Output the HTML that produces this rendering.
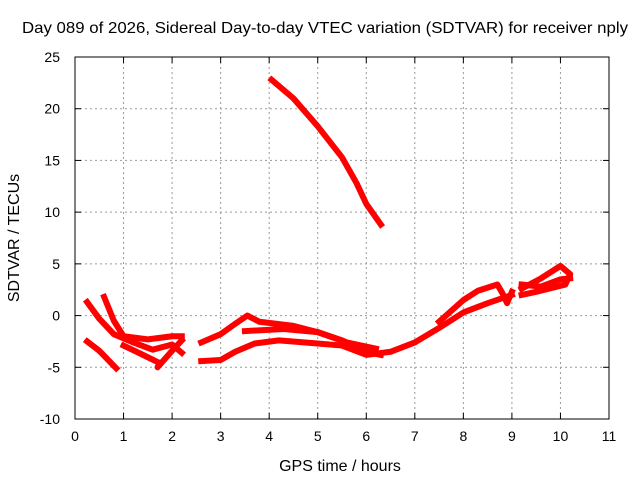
<!DOCTYPE html>
<html><head><meta charset="utf-8"><style>
body{margin:0;background:#fff}
svg text{font-family:"Liberation Sans",sans-serif;font-size:14px;fill:#000}
svg text.big{font-size:16px}
</style></head><body>
<svg id="chart" width="640" height="480">
<rect width="640" height="480" fill="#fff"/>
<text class="big" x="325" y="33" text-anchor="middle" textLength="606" lengthAdjust="spacingAndGlyphs">Day 089 of 2026, Sidereal Day-to-day VTEC variation (SDTVAR) for receiver nply</text>
<g id="grid"></g>
<g id="ticks"></g>
<g id="series"></g>
<rect x="75" y="57" width="534" height="362" fill="none" stroke="#000" stroke-width="1"/>
<text class="big" x="340" y="471" text-anchor="middle">GPS time / hours</text>
<text class="big" transform="translate(19,238) rotate(-90)" text-anchor="middle">SDTVAR / TECUs</text>
</svg>
<script>
const xTicks=[0,1,2,3,4,5,6,7,8,9,10,11];
const yTicks=[-10,-5,0,5,10,15,20,25];
const trackTop=[[4.05,22.8],[4.5,21],[5,18.3],[5.5,15.3],[5.8,12.8],[6.0,10.8],[6.3,8.8]];
const trackB=[[0.25,1.3],[0.5,-0.3],[0.8,-1.8],[1.2,-2.6],[1.6,-3.3],[2.0,-2.8],[2.2,-3.6]];
const trackC=[[0.6,1.8],[0.8,-0.5],[1.0,-2.0],[1.5,-2.3],[2.0,-2.0],[2.2,-2.0]];
const trackD=[[0.25,-2.5],[0.5,-3.4],[0.85,-5.1]];
const trackE=[[1.0,-2.9],[1.4,-3.8],[1.75,-4.6],[1.7,-5.0],[2.0,-3.4],[2.2,-2.4]];
const trackF=[[2.6,-2.6],[3.0,-1.8],[3.3,-0.8],[3.55,0],[3.8,-0.6],[4.5,-1.0],[5.0,-1.6],[5.5,-2.4],[6.0,-3.5],[6.3,-3.8]];
const trackG=[[2.6,-4.4],[3.0,-4.3],[3.3,-3.5],[3.7,-2.7],[4.2,-2.4],[5,-2.7],[5.5,-2.9],[6,-3.8],[6.5,-3.5],[7,-2.6],[7.5,-1.2],[8,0.3],[8.5,1.2],[9.0,2.0]];
const trackH=[[3.5,-1.5],[4.3,-1.3],[5,-1.6],[5.6,-2.6],[6.2,-3.2]];
const trackI=[[7.5,-0.6],[8,1.5],[8.3,2.4],[8.7,3.0],[8.8,2.2],[8.9,1.2],[9.0,2.3]];
const trackJ=[[9.2,2.6],[9.6,3.6],[10,4.8],[10.2,4.0],[10.1,3.0],[9.5,2.3],[9.2,2.0]];
const trackK=[[9.2,3.0],[9.6,2.8],[10.0,3.5],[10.2,3.6]];
const tracks=[trackTop,trackB,trackC,trackD,trackE,trackF,trackG,trackH,trackI,trackJ,trackK];
const NS="http://www.w3.org/2000/svg";
const xS=h=>75+h*534/11;
const yS=v=>57+(25-v)*362/35;
const grid=document.getElementById('grid'),ticks=document.getElementById('ticks'),ser=document.getElementById('series');
function mk(t,a,p){const e=document.createElementNS(NS,t);for(const k in a)e.setAttribute(k,a[k]);p.appendChild(e);return e;}
xTicks.forEach(t=>{const x=xS(t);
 if(t>0&&t<11){const l=mk('line',{x1:x,x2:x,y1:57,y2:419,stroke:'#999','stroke-dasharray':'2,3'},grid);
 
 }
 const tx=mk('text',{x:x,y:441,'text-anchor':'middle'},ticks);tx.textContent=t;
 
 
 mk('line',{x1:x,x2:x,y1:419,y2:413,stroke:'#000'},ticks);mk('line',{x1:x,x2:x,y1:57,y2:63,stroke:'#000'},ticks);});
yTicks.forEach(t=>{const y=yS(t);
 if(t>-10&&t<25){const l=mk('line',{x1:75,x2:609,y1:y,y2:y,stroke:'#999','stroke-dasharray':'2,3'},grid);
 
 }
 const tx=mk('text',{x:60,y:y+5,'text-anchor':'end'},ticks);tx.textContent=t;
 
 
 mk('line',{x1:75,x2:81,y1:y,y2:y,stroke:'#000'},ticks);mk('line',{x1:609,x2:603,y1:y,y2:y,stroke:'#000'},ticks);});
tracks.forEach(tr=>{const pts=tr.map(p=>xS(p[0])+','+yS(p[1])).join(' ');
 const pl=mk('polyline',{points:pts,fill:'none',stroke:'#f00','stroke-width':6,'stroke-linejoin':'round','stroke-linecap':'square'},ser);
 
 });
</script>
</body></html>
